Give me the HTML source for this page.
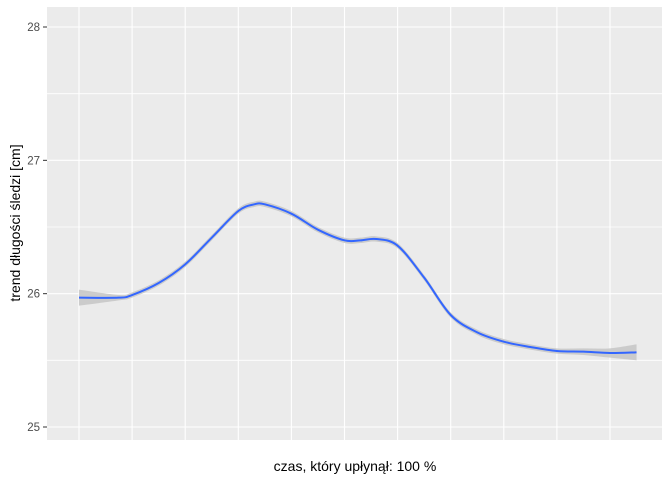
<!DOCTYPE html>
<html><head><meta charset="utf-8"><style>
body{margin:0;background:#fff;}
svg{display:block;font-family:"Liberation Sans",sans-serif;}
</style></head><body>
<svg id="chart" width="672" height="480">
<rect x="47" y="7" width="615" height="433" fill="#ebebeb"/>
<g id="grid"></g>
<g id="yticks"></g>
<path id="band" fill="#c8c8c8" opacity="0.9"/>
<path id="line" fill="none" stroke="#3366ff" stroke-width="2"/>
<text x="355" y="471" font-size="14" text-anchor="middle" fill="#000">czas, który upłynął: 100 %</text>
<text transform="translate(20,223) rotate(-90)" font-size="14" text-anchor="middle" fill="#000">trend długości śledzi [cm]</text>
</svg>
<script>
const xs=[0,0.75,1,1.5,2,2.5,3,3.3,3.5,4,4.5,5,5.3,5.6,6,6.5,7,7.5,8,8.5,9,9.5,10,10.5];
const ys=[25.97,25.97,25.99,26.08,26.22,26.42,26.62,26.67,26.67,26.6,26.48,26.4,26.4,26.41,26.36,26.12,25.84,25.71,25.64,25.6,25.57,25.565,25.555,25.56];
const se=[0.06,0.02,0.02,0.02,0.02,0.02,0.02,0.02,0.02,0.02,0.02,0.02,0.02,0.02,0.02,0.02,0.02,0.02,0.02,0.02,0.02,0.025,0.035,0.06];
const yTicks=[25,26,27,28];
const NS='http://www.w3.org/2000/svg';
const X=v=>79+53.1*v, Y=v=>427-133.33*(v-25);
const grid=document.getElementById('grid'), yt=document.getElementById('yticks');
function ln(p,x1,y1,x2,y2,s,w){const l=document.createElementNS(NS,'line');l.setAttribute('x1',x1);l.setAttribute('y1',y1);l.setAttribute('x2',x2);l.setAttribute('y2',y2);l.setAttribute('stroke',s);l.setAttribute('stroke-width',w);p.appendChild(l);return l;}
for(let i=0;i<=10;i++){const l=ln(grid,X(i),7,X(i),440,'#fff',1.1);

}
for(let v=25;v<=28.01;v+=0.5){const l=ln(grid,47,Y(v),662,Y(v),'#fff',Number.isInteger(v)?1.1:0.8);

}
yTicks.forEach(v=>{const l=ln(yt,43,Y(v),47,Y(v),'#333',1);


const t=document.createElementNS(NS,'text');t.setAttribute('x',40);t.setAttribute('y',Y(v)+4);t.setAttribute('text-anchor','end');t.setAttribute('font-size','11.5');t.setAttribute('fill','#4d4d4d');t.textContent=v;


yt.appendChild(t);});
function smooth(pts){let d='M'+pts[0][0]+','+pts[0][1];for(let i=0;i<pts.length-1;i++){const p0=pts[Math.max(0,i-1)],p1=pts[i],p2=pts[i+1],p3=pts[Math.min(pts.length-1,i+2)];
const c1=[p1[0]+(p2[0]-p0[0])/6,p1[1]+(p2[1]-p0[1])/6],c2=[p2[0]-(p3[0]-p1[0])/6,p2[1]-(p3[1]-p1[1])/6];
d+=' C'+c1+' '+c2+' '+p2;}return d;}
const mid=xs.map((x,i)=>[X(x),Y(ys[i])]);
const up=xs.map((x,i)=>[X(x),Y(ys[i]+se[i])]);
const lo=xs.map((x,i)=>[X(x),Y(ys[i]-se[i])]).reverse();
document.getElementById('line').setAttribute('d',smooth(mid));
document.getElementById('band').setAttribute('d',smooth(up)+' L'+lo[0]+smooth(lo).replace(/^M[^ ]+/,'')+' Z');
</script>
</body></html>
